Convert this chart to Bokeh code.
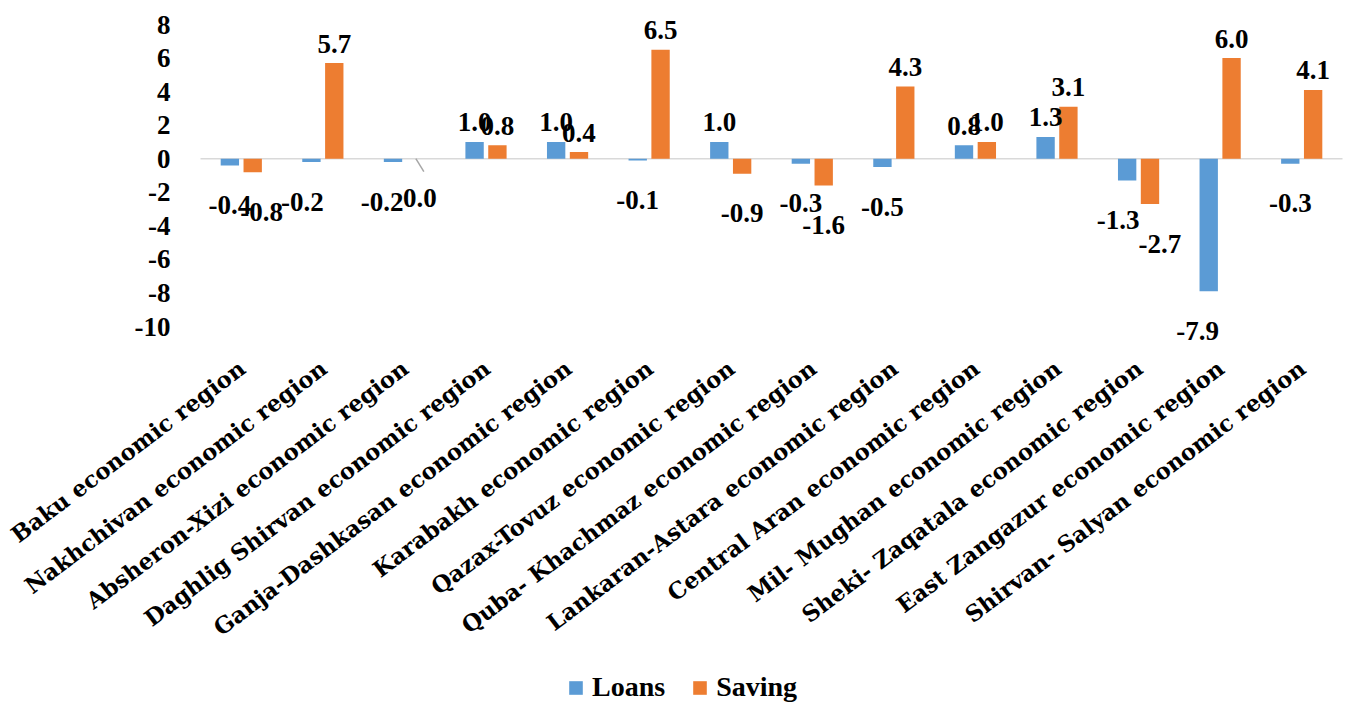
from bokeh.plotting import figure
from bokeh.models import ColumnDataSource, Range1d, Legend, LegendItem
from bokeh.core.properties import value
from bokeh.embed import file_html
from bokeh.resources import INLINE

categories = [
    "Baku economic region",
    "Nakhchivan economic region",
    "Absheron-Xizi economic region",
    "Daghlig Shirvan economic region",
    "Ganja-Dashkasan economic region",
    "Karabakh economic region",
    "Qazax-Tovuz economic region",
    "Quba- Khachmaz economic region",
    "Lankaran-Astara economic region",
    "Central Aran economic region",
    "Mil- Mughan economic region",
    "Sheki- Zaqatala economic region",
    "East Zangazur economic region",
    "Shirvan- Salyan economic region",
]
loans = [-0.4, -0.2, -0.2, 1.0, 1.0, -0.1, 1.0, -0.3, -0.5, 0.8, 1.3, -1.3, -7.9, -0.3]
saving = [-0.8, 5.7, 0.0, 0.8, 0.4, 6.5, -0.9, -1.6, 4.3, 1.0, 3.1, -2.7, 6.0, 4.1]
y_ticks = [-10, -8, -6, -4, -2, 0, 2, 4, 6, 8]

BLUE = "#5B9BD5"
ORANGE = "#ED7D31"
NUM_FONT = "Liberation Serif"
CAT_FONT = "DejaVu Serif"

# ---- layout (canvas pixels) ----
W, H = 1346, 709
PLOT_L, PLOT_R, PLOT_T, PLOT_B = 200, 1342, 24, 326
n = len(categories)
y_min, y_max = min(y_ticks), max(y_ticks)
slot = (PLOT_R - PLOT_L) / n
ppu = (PLOT_B - PLOT_T) / (y_max - y_min)

x_range = Range1d(-PLOT_L / slot, (W - PLOT_L) / slot)
y_range = Range1d(y_min - (H - PLOT_B) / ppu, y_max + PLOT_T / ppu)

# horizontal nudges (px) of some data labels, as moved in the original chart
LOANS_NUDGE = {1: -9, 2: -11, 11: -9, 12: -11}
SAVING_NUDGE = {0: 9, 2: 4, 11: 10}

p = figure(
    x_range=x_range, y_range=y_range, width=W, height=H,
    output_backend="svg", toolbar_location=None,
    min_border=0, min_border_left=0, min_border_right=0, min_border_top=0, min_border_bottom=0,
)
p.outline_line_color = None
p.grid.visible = False
p.xaxis.visible = False
p.yaxis.visible = False
p.background_fill_color = "white"
p.border_fill_color = "white"

# category centres on the category scale (index + 0.5)
centers = [i + 0.5 for i in range(n)]
off = 0.14
bw = 0.225
x_loans = [c - off for c in centers]
x_saving = [c + off for c in centers]

# zero line across the plot area
p.segment(x0=[0], y0=[0], x1=[n], y1=[0], line_color="#D9D9D9", line_width=1.5)

r_l = p.vbar(x=x_loans, top=loans, bottom=0, width=bw, fill_color=BLUE, line_color=None)
r_s = p.vbar(x=x_saving, top=saving, bottom=0, width=bw, fill_color=ORANGE, line_color=None)

# leader line for moved zero-valued labels
lead_x0, lead_y0, lead_x1, lead_y1 = [], [], [], []
for xs, vals in ((x_loans, loans), (x_saving, saving)):
    for x, v in zip(xs, vals):
        if v == 0:
            lead_x0.append(x)
            lead_y0.append(v)
            lead_x1.append(x + 8 / slot)
            lead_y1.append(v - 13 / ppu)
p.segment(x0=lead_x0, y0=lead_y0, x1=lead_x1, y1=lead_y1, line_color="#A6A6A6", line_width=1.5)

# data labels (outside end)
for xs, vals, nudge in ((x_loans, loans, LOANS_NUDGE), (x_saving, saving, SAVING_NUDGE)):
    src = ColumnDataSource(dict(
        x=xs, y=vals,
        text=["{:.1f}".format(v) for v in vals],
        xoff=[nudge.get(i, 0) for i in range(n)],
        yoff=[-19.5 if v > 0 else 39.5 for v in vals],
    ))
    p.text(x="x", y="y", text="text", source=src,
           text_align="center", text_baseline="alphabetic", x_offset="xoff", y_offset="yoff",
           text_font=value(NUM_FONT), text_font_style="bold", text_font_size="27px",
           text_color="black")

# y tick labels
p.text(x=[0] * len(y_ticks), y=y_ticks, text=[str(t) for t in y_ticks],
       text_align="right", text_baseline="middle", x_offset=-30,
       text_font=value(NUM_FONT), text_font_style="bold", text_font_size="27px",
       text_color="black")

# category labels (rotated) below the plot area
p.text(x=centers, y=[y_min] * n, text=categories,
       angle=0.645, text_align="right", text_baseline="middle",
       x_offset=1, y_offset=39,
       text_font=value(CAT_FONT), text_font_style="bold", text_font_size="22.7px",
       text_color="black")

legend = Legend(
    items=[LegendItem(label="Loans", renderers=[r_l]), LegendItem(label="Saving", renderers=[r_s])],
    orientation="horizontal",
    label_text_font=NUM_FONT, label_text_font_style="bold", label_text_font_size="28px",
    label_text_color="black",
    glyph_width=17, glyph_height=17, label_standoff=8, spacing=26,
    border_line_color=None, background_fill_alpha=0,
    padding=0, margin=0, location=(567, 6),
)
p.add_layout(legend, "center")

open("out.html", "w").write(file_html(p, INLINE))
